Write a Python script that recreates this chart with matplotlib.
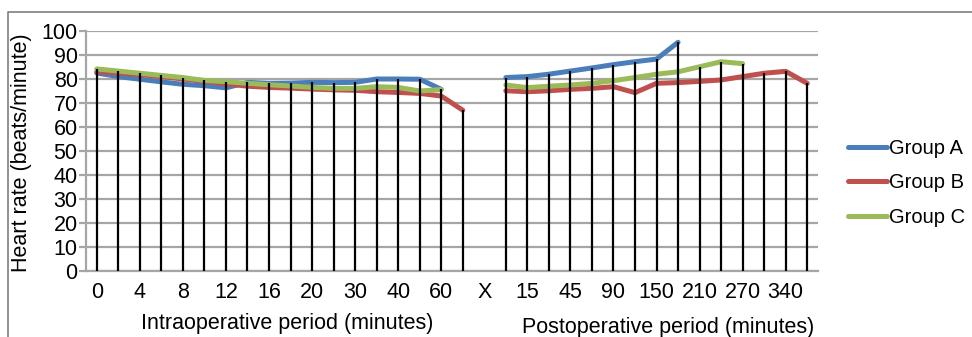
import numpy as np
import matplotlib.pyplot as plt
from matplotlib.lines import Line2D

plt.rcParams['font.family'] = ['Liberation Sans', 'DejaVu Sans']

nan = np.nan

# ========== data ==========
# 34 category slots: 0-17 intraoperative, 18 = "X" gap, 19-33 postoperative
groupA = [82.5, 81, 79.9, 78.8, 77.8, 77.2, 76.3, 78.6, 78.2, 78.3, 78.6, 78.5, 78.6, 80, 80, 79.9, 75.7, nan,
          nan,
          80.6, 81, 82, 83.3, 84.6, 86, 87.2, 88.3, 95.3, nan, nan, nan, nan, nan, nan]
groupB = [83, 82.5, 81.8, 81, 80, 79, 78, 77, 76.5, 76.2, 75.8, 75.5, 75.3, 74.7, 74.4, 74, 72.9, 67,
          nan,
          75.1, 74.7, 75.1, 75.7, 76.1, 76.8, 74.3, 78.2, 78.5, 79, 79.6, 81, 82.4, 83.2, 78.2]
groupC = [84.2, 83.3, 82.4, 81.5, 80.6, 79.4, 78.9, 78.2, 77.6, 77.1, 76.5, 76.1, 76.1, 76.8, 76.5, 75, 75.6, nan,
          nan,
          77.5, 76.4, 77, 77.5, 78.2, 79.3, 80.6, 82, 83, 85.1, 87.2, 86.4, nan, nan, nan]
tickLabels = ['0', '4', '8', '12', '16', '20', '30', '40', '60', 'X',
              '15', '45', '90', '150', '210', '270', '340']
seriesNames = ['Group A', 'Group B', 'Group C']
colours = ['#4a7ebb', '#c0504d', '#9bbb59']

# ========== plot ==========
W, H = 972, 337
FS = 15.5
fig = plt.figure(figsize=(W / 100, H / 100), dpi=100)
ax = fig.add_axes([86 / W, (H - 271) / H, (818 - 86) / W, (271 - 31) / H])

x = np.arange(len(groupA))
allSeries = [groupA, groupB, groupC]
handles = []
for vals, name, col in zip(allSeries, seriesNames, colours):
    h, = ax.plot(x, vals, color=col, lw=3.6, solid_capstyle='round', zorder=2, label=name)
    handles.append(h)

# drop lines from the highest point of each category
stack = np.array(allSeries, dtype=float)
for i in x:
    col = stack[:, i]
    if np.all(np.isnan(col)):
        continue
    ax.vlines(i, 0, np.nanmax(col), color='black', lw=1.6, zorder=3)

ax.set_xlim(-0.5, len(x) - 0.5)
ax.set_ylim(0, 100)
ax.set_yticks(range(0, 101, 10))
ax.set_xticks(range(0, len(x), 2))
ax.set_xticklabels(tickLabels)
ax.yaxis.grid(True, color='#a6a6a6', lw=1.6, zorder=0)
ax.set_axisbelow(True)
for s in ['top', 'right']:
    ax.spines[s].set_visible(False)
for s in ['left', 'bottom']:
    ax.spines[s].set_color('#a6a6a6')
    ax.spines[s].set_linewidth(1.6)
ax.tick_params(axis='y', length=5, color='#a6a6a6', width=1.6, labelsize=FS, pad=1)
ax.tick_params(axis='x', length=0, labelsize=FS, pad=8)

fig.text(22 / W, 1 - 153 / H, 'Heart rate (beats/minute)', rotation=90, fontsize=FS,
         ha='center', va='center')
fig.text(287 / W, 1 - 324 / H, 'Intraoperative period (minutes)', fontsize=FS,
         ha='center', va='center')
fig.text(668 / W, 1 - 327 / H, 'Postoperative period (minutes)', fontsize=FS,
         ha='center', va='center')

fig.legend(handles=handles, loc='center left', bbox_to_anchor=(848 / W, 1 - 183 / H),
           frameon=False, fontsize=14.5, handlelength=1.95, handletextpad=0.1,
           labelspacing=0.75, borderpad=0, borderaxespad=0)

# chart area border
fig.add_artist(Line2D([8 / W, 8 / W, 1], [0, 1 - 12 / H, 1 - 12 / H],
                      color='#7f7f7f', lw=1.2, transform=fig.transFigure))

plt.savefig('out.png', dpi=100)
